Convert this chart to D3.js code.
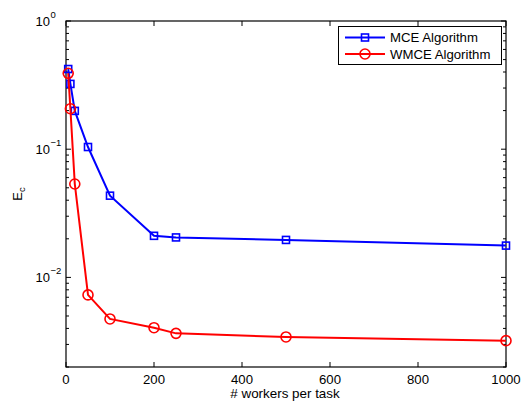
<!DOCTYPE html>
<html><head><meta charset="utf-8">
<script src="https://cdn.jsdelivr.net/npm/d3@7"></script>
<style>body{margin:0;background:#fff}svg{display:block;font-family:"Liberation Sans",Arial,sans-serif}</style>
</head><body>
<svg id="c" width="522" height="403"></svg>
<script>
const workers = [5, 10, 20, 50, 100, 200, 250, 500, 1000];
const mce = [0.422, 0.323, 0.199, 0.104, 0.0434, 0.0211, 0.0205, 0.0196, 0.0177];
const wmce = [0.391, 0.207, 0.0535, 0.0073, 0.00474, 0.00405, 0.00366, 0.00343, 0.00321];
const xTicks = [0, 200, 400, 600, 800, 1000];
const yTickExps = [0, -1, -2];
const seriesNames = ["MCE Algorithm", "WMCE Algorithm"];

const svg = d3.select("#c");
const L = 66, R = 506, T = 21, B = 367;
const x = d3.scaleLinear().domain([0, 1000]).range([L, R]);
const y = d3.scaleLog().domain([0.002, 1]).range([B, T]);

const g = svg.append("g");
const tk = 5;
xTicks.forEach(v => {
  g.append("line").attr("x1", x(v)).attr("x2", x(v)).attr("y1", B).attr("y2", B - tk).attr("stroke", "#000");
  g.append("line").attr("x1", x(v)).attr("x2", x(v)).attr("y1", T).attr("y2", T + tk).attr("stroke", "#000");
  g.append("text").attr("x", x(v)).attr("y", B + 17).attr("text-anchor", "middle").attr("font-size", 13.2).text(v);
});
const minor = [];
for (let e = -3; e <= 0; e++) for (let m = 1; m <= 9; m++) { const v = m * Math.pow(10, e); if (v >= 0.002 && v <= 1) minor.push([v, m === 1]); }
minor.forEach(([v, major]) => {
  const len = major ? 5 : 3;
  g.append("line").attr("x1", L).attr("x2", L + len).attr("y1", y(v)).attr("y2", y(v)).attr("stroke", "#000");
  g.append("line").attr("x1", R).attr("x2", R - len).attr("y1", y(v)).attr("y2", y(v)).attr("stroke", "#000");
});
yTickExps.forEach(e => {
  g.append("text").attr("x", 50).attr("y", y(Math.pow(10, e)) + 4.5).attr("text-anchor", "end").attr("font-size", 13).text("10");
  g.append("text").attr("x", 50.5).attr("y", y(Math.pow(10, e)) - 3).attr("font-size", 9.5).text(e === 0 ? "0" : "\u2212" + (-e));
});
g.append("rect").attr("x", L).attr("y", T).attr("width", R - L).attr("height", B - T).attr("fill", "none").attr("stroke", "#000").attr("stroke-width", 1.2);

svg.append("text").attr("x", (L + R) / 2 - 1).attr("y", 398).attr("text-anchor", "middle").attr("font-size", 13.4).text("# workers per task");
const yl = svg.append("text").attr("transform", `translate(21.5,${(T + B) / 2}) rotate(-90)`).attr("text-anchor", "middle").attr("font-size", 13);
yl.append("tspan").text("E");
yl.append("tspan").attr("font-size", 9.5).attr("dy", 3).text("c");

const line = d3.line().x(d => x(d[0])).y(d => y(d[1]));
const dMce = workers.map((w, i) => [w, mce[i]]);
const dW = workers.map((w, i) => [w, wmce[i]]);

svg.append("path").datum(dMce).attr("d", line).attr("fill", "none").attr("stroke", "#0000ff").attr("stroke-width", 2);
svg.selectAll(".sq").data(dMce).enter().append("rect").attr("x", d => x(d[0]) - 3.5).attr("y", d => y(d[1]) - 3.5).attr("width", 7).attr("height", 7).attr("fill", "none").attr("stroke", "#0000ff").attr("stroke-width", 1.6);
svg.append("path").datum(dW).attr("d", line).attr("fill", "none").attr("stroke", "#ff0000").attr("stroke-width", 2);
svg.selectAll(".ci").data(dW).enter().append("circle").attr("cx", d => x(d[0])).attr("cy", d => y(d[1])).attr("r", 5).attr("fill", "none").attr("stroke", "#ff0000").attr("stroke-width", 1.6);

const lg = svg.append("g");
lg.append("rect").attr("x", 338.5).attr("y", 26.5).attr("width", 163).attr("height", 38).attr("fill", "#fff").attr("stroke", "#000").attr("stroke-width", 1);
const cols = ["#0000ff", "#ff0000"];
[0, 1].forEach(i => {
  const yy = 37.5 + i * 16.5;
  lg.append("line").attr("x1", 345).attr("x2", 385).attr("y1", yy).attr("y2", yy).attr("stroke", cols[i]).attr("stroke-width", 2);
  if (i === 0) lg.append("rect").attr("x", 365 - 3.5).attr("y", yy - 3.5).attr("width", 7).attr("height", 7).attr("fill", "none").attr("stroke", cols[i]).attr("stroke-width", 1.6);
  else lg.append("circle").attr("cx", 365).attr("cy", yy).attr("r", 5).attr("fill", "none").attr("stroke", cols[i]).attr("stroke-width", 1.6);
  lg.append("text").attr("x", 390).attr("y", yy + 4.5).attr("font-size", 13.2).text(seriesNames[i]);
});
</script>
</body></html>
